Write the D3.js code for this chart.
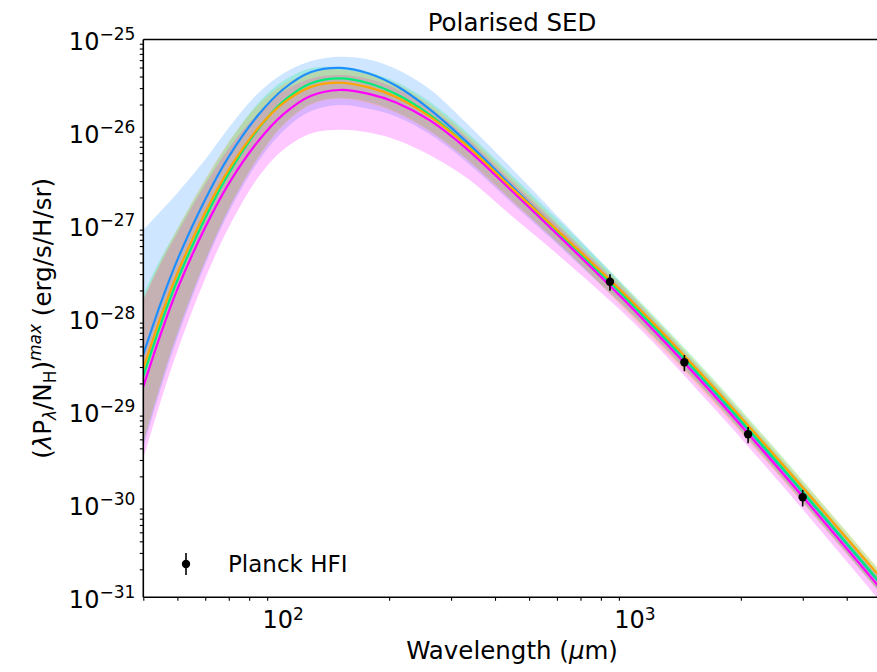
<!DOCTYPE html>
<html>
<head>
<meta charset="utf-8">
<script src="https://cdn.jsdelivr.net/npm/d3@7"></script>
<style>
  body { margin: 0; background: #fff; }
  svg text { font-family: "DejaVu Sans", sans-serif; fill: #000; }
</style>
</head>
<body>
<div id="chart"></div>
<script>
// wavelength grid (micron)
const wave = [40, 45, 50, 60, 70, 85, 100, 120, 145, 175, 210, 260, 330, 450, 650, 1000, 1600, 2600, 5000]

// log10 of (lambda P_lambda / N_H)
const blueLine = [-28.39, -27.82, -27.37, -26.72, -26.26, -25.81, -25.535, -25.35, -25.305, -25.365, -25.50, -25.745, -26.09, -26.59, -27.18, -27.88, -28.70, -29.60, -30.86]
const blueHi = [-27.05, -26.84, -26.65, -26.29, -25.95, -25.575, -25.365, -25.23, -25.185, -25.215, -25.32, -25.53, -25.89, -26.40, -27.03, -27.78, -28.61, -29.51, -30.77]
const blueLo = [-29.39, -28.74, -28.21, -27.42, -26.86, -26.31, -25.985, -25.77, -25.705, -25.745, -25.83, -26.015, -26.31, -26.77, -27.32, -27.99, -28.80, -29.70, -30.96]

const greenLine = [-28.62, -28.045, -27.59, -26.92, -26.44, -25.96, -25.665, -25.47, -25.419, -25.47, -25.59, -25.805, -26.125, -26.61, -27.185, -27.88, -28.69, -29.59, -30.85]
const greenHi = [-27.74, -27.345, -27.04, -26.52, -26.11, -25.68, -25.445, -25.31, -25.30, -25.35, -25.46, -25.665, -25.985, -26.47, -27.055, -27.76, -28.57, -29.47, -30.73]
const greenLo = [-29.34, -28.685, -28.16, -27.38, -26.82, -26.26, -25.915, -25.69, -25.629, -25.67, -25.78, -25.975, -26.275, -26.74, -27.305, -27.99, -28.80, -29.70, -30.96]

const orangeLine = [-28.54, -27.968, -27.515, -26.86, -26.40, -25.95, -25.685, -25.51, -25.465, -25.515, -25.62, -25.825, -26.13, -26.61, -27.17, -27.85, -28.66, -29.55, -30.79]
const orangeHi = [-27.79, -27.368, -27.035, -26.50, -26.10, -25.70, -25.485, -25.35, -25.325, -25.375, -25.48, -25.695, -26.01, -26.50, -27.10, -27.78, -28.59, -29.48, -30.72]
const orangeLo = [-29.34, -28.688, -28.155, -27.38, -26.82, -26.27, -25.925, -25.70, -25.635, -25.685, -25.79, -25.985, -26.28, -26.75, -27.30, -28.02, -28.83, -29.72, -30.96]

const magentaLine = [-28.735, -28.15, -27.685, -27.02, -26.55, -26.09, -25.805, -25.605, -25.543, -25.585, -25.68, -25.865, -26.165, -26.64, -27.22, -27.92, -28.74, -29.645, -30.91]
const magentaHi = [-27.80, -27.40, -27.08, -26.56, -26.17, -25.79, -25.56, -25.42, -25.383, -25.425, -25.53, -25.735, -26.045, -26.54, -27.12, -27.82, -28.64, -29.545, -30.81]
const magentaLo = [-29.51, -28.87, -28.35, -27.57, -27.02, -26.48, -26.185, -26.01, -25.97, -26.00, -26.08, -26.24, -26.48, -26.91, -27.42, -28.06, -28.88, -29.78, -31.05]

// Planck HFI points
const planckWave = [849, 1382, 2097, 2998]
const planckVal = [2.48e-28, 3.37e-29, 5.67e-30, 1.19e-30]
const planckErr = [0.5e-28, 0.67e-29, 1.13e-30, 0.24e-30]

const xTicks = [100, 1000]
const xTickExp = ['2', '3']
const yTickExp = [-31, -30, -29, -28, -27, -26, -25]

const blue = { line: blueLine, hi: blueHi, lo: blueLo, color: '#1e8fff' }
const green = { line: greenLine, hi: greenHi, lo: greenLo, color: '#00ee76' }
const orange = { line: orangeLine, hi: orangeHi, lo: orangeLo, color: '#ffa500' }
const magenta = { line: magentaLine, hi: magentaHi, lo: magentaLo, color: '#ff00ff' }
const bandOrder = [blue, green, magenta, orange]
const lineOrder = [blue, green, magenta, orange]

const width = 877, height = 672
const plotL = 143.3, plotR = 880.8, plotT = 39.5, plotB = 597.3

const svg = d3.select('#chart').append('svg').attr('width', width).attr('height', height)

const x = d3.scaleLog().domain([40, 5000]).range([plotL, plotR])
const y = d3.scaleLog().domain([1e-31, 1e-25]).range([plotB, plotT])

svg.append('clipPath').attr('id', 'clip')
  .append('rect').attr('x', plotL).attr('y', plotT).attr('width', plotR - plotL).attr('height', plotB - plotT)

const plot = svg.append('g').attr('clip-path', 'url(#clip)')

const area = d3.area()
  .x(d => x(d.w))
  .y0(d => y(Math.pow(10, d.lo)))
  .y1(d => y(Math.pow(10, d.hi)))
  .curve(d3.curveCatmullRom)

const line = d3.line()
  .x(d => x(d.w))
  .y(d => y(Math.pow(10, d.v)))
  .curve(d3.curveCatmullRom)

// bands first
bandOrder.forEach(s => {
  const rows = wave.map((w, i) => ({ w: w, lo: s.lo[i], hi: s.hi[i] }))
  plot.append('path').datum(rows).attr('d', area).attr('fill', s.color).attr('fill-opacity', 0.22)
})
// then the lines
lineOrder.forEach(s => {
  const rows = wave.map((w, i) => ({ w: w, v: s.line[i] }))
  plot.append('path').datum(rows).attr('d', line).attr('fill', 'none').attr('stroke', s.color).attr('stroke-width', 2.2)
})

// data with error bars
const pts = planckWave.map((w, i) => ({ w: w, v: planckVal[i], e: planckErr[i] }))
const dg = plot.append('g')
dg.selectAll('line').data(pts).enter().append('line')
  .attr('x1', d => x(d.w)).attr('x2', d => x(d.w))
  .attr('y1', d => y(d.v + d.e)).attr('y2', d => y(d.v - d.e))
  .attr('stroke', '#000').attr('stroke-width', 1.6)
dg.selectAll('circle').data(pts).enter().append('circle')
  .attr('cx', d => x(d.w)).attr('cy', d => y(d.v)).attr('r', 4.2).attr('fill', '#000')

// minor tick values
const xMinor = []
;[10, 100, 1000].forEach(p => { for (let k = 2; k <= 9; k++) { const v = k * p; if (v >= 40 && v <= 5000) xMinor.push(v) } })
const yMinor = []
yTickExp.slice(0, -1).forEach(e => { for (let k = 2; k <= 9; k++) yMinor.push(k * Math.pow(10, e)) })

const yMajor = yTickExp.map(e => Math.pow(10, e))

const gx = svg.append('g').attr('transform', `translate(0,${plotB})`)
gx.call(d3.axisBottom(x).tickValues(xTicks).tickSize(6).tickSizeOuter(0).tickFormat(''))
gx.call(d3.axisBottom(x).tickValues(xMinor).tickSize(3.5).tickSizeOuter(0).tickFormat(''))
gx.selectAll('.domain').remove()

const gy = svg.append('g').attr('transform', `translate(${plotL},0)`)
gy.call(d3.axisLeft(y).tickValues(yMajor).tickSize(6).tickSizeOuter(0).tickFormat(''))
gy.call(d3.axisLeft(y).tickValues(yMinor).tickSize(3.5).tickSizeOuter(0).tickFormat(''))
gy.selectAll('.domain').remove()
svg.selectAll('.tick line').attr('stroke', '#000').attr('stroke-width', 1.1)

// tick labels 10^n
xTicks.forEach((v, i) => {
  const t = svg.append('text').attr('x', x(v)).attr('y', plotB + 30.5).attr('text-anchor', 'middle').attr('font-size', 24)
  t.append('tspan').text('10')
  t.append('tspan').attr('dy', -8).attr('font-size', 17).text(xTickExp[i])
})
yTickExp.forEach(e => {
  const t = svg.append('text').attr('x', plotL - 8).attr('y', y(Math.pow(10, e)) + 10.5).attr('text-anchor', 'end').attr('font-size', 24)
  t.append('tspan').text('10')
  t.append('tspan').attr('dy', -10).attr('font-size', 17).text('\u2212' + Math.abs(e))
})

// spines
const spine = svg.append('g').attr('stroke', '#000').attr('stroke-width', 1.6)
spine.append('line').attr('x1', plotL).attr('x2', plotL).attr('y1', plotT).attr('y2', plotB)
spine.append('line').attr('x1', plotL).attr('x2', plotR).attr('y1', plotT).attr('y2', plotT)
spine.append('line').attr('x1', plotL).attr('x2', plotR).attr('y1', plotB).attr('y2', plotB)
spine.append('line').attr('x1', plotR).attr('x2', plotR).attr('y1', plotT).attr('y2', plotB)

// title and axis labels
svg.append('text').attr('x', (plotL + plotR) / 2).attr('y', 31).attr('text-anchor', 'middle').attr('font-size', 24.5).text('Polarised SED')

const xl = svg.append('text').attr('x', (plotL + plotR) / 2).attr('y', 659).attr('text-anchor', 'middle').attr('font-size', 24.5)
xl.append('tspan').text('Wavelength (')
xl.append('tspan').attr('font-style', 'italic').text('\u03bc')
xl.append('tspan').text('m)')

const yl = svg.append('text').attr('transform', `translate(51,${(plotT + plotB) / 2}) rotate(-90)`).attr('text-anchor', 'middle').attr('font-size', 24.5)
yl.append('tspan').text('(')
yl.append('tspan').attr('font-style', 'italic').text('\u03bb')
yl.append('tspan').text('P')
yl.append('tspan').attr('font-style', 'italic').attr('font-size', 17).attr('dy', 5).text('\u03bb')
yl.append('tspan').attr('dy', -5).text('/N')
yl.append('tspan').attr('font-size', 17).attr('dy', 5).text('H')
yl.append('tspan').attr('dy', -5).text(')')
yl.append('tspan').attr('font-style', 'italic').attr('font-size', 17).attr('dy', -10).text('max')
yl.append('tspan').attr('dy', 10).text(' (erg/s/H/sr)')

// legend
const lg = svg.append('g').attr('transform', 'translate(186,564)')
lg.append('line').attr('y1', -11).attr('y2', 11).attr('stroke', '#000').attr('stroke-width', 1.6)
lg.append('circle').attr('r', 4.2).attr('fill', '#000')
svg.append('text').attr('x', 228).attr('y', 572).attr('font-size', 23).text('Planck HFI')
</script>
</body>
</html>
